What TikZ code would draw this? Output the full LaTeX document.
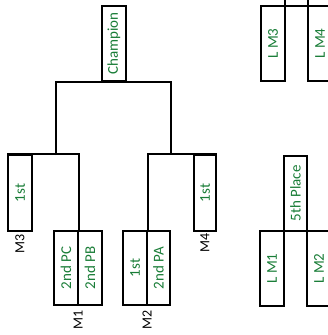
\documentclass[tikz,border=0pt]{standalone}
\usepackage{fontspec}
\setmainfont{Carlito}
\definecolor{tg}{RGB}{25,125,55}
\begin{document}
\begin{tikzpicture}[x=1pt,y=-1pt,line width=1.7pt,
  cell/.style={draw=black,inner sep=0pt,minimum width=24pt,minimum height=75pt,
    text=tg,font=\fontsize{15}{17}\selectfont},
  lab/.style={inner sep=0pt,text=black,font=\fontsize{14}{16}\selectfont}]
\useasboundingbox (0,0) rectangle (328,335);
\fill[white] (0,0) rectangle (328,335);
\clip (0,0) rectangle (328,335);
% left bracket boxes
\node[cell] (champ) at (114,43.5) {\rotatebox{90}{Champion}};
\node[cell,minimum height=76pt] (m3) at (20,193) {\rotatebox{90}{1st}};
\node[cell,minimum height=74pt] (m1l) at (66,268) {\rotatebox{90}{2nd PC}};
\node[cell,minimum height=74pt] (m1r) at (90,268) {\rotatebox{90}{2nd PB}};
\node[cell,minimum height=74pt] (m2l) at (135,268) {\rotatebox{90}{1st}};
\node[cell,minimum height=74pt,minimum width=23pt] (m2r) at (158.5,268) {\rotatebox{90}{2nd PA}};
\node[cell,minimum height=76pt,minimum width=22pt] (m4) at (205,193) {\rotatebox{90}{1st}};
% right side boxes
\node[cell] (lm3) at (273,43.5) {\rotatebox{90}{L M3}};
\node[cell,minimum height=26pt,minimum width=23pt] (tmid) at (296.5,-7) {};
\node[cell] (lm4) at (320,43.5) {\rotatebox{90}{L M4}};
\node[cell,minimum width=23pt] (fifth) at (295.5,193.5) {\rotatebox{90}{5th Place}};
\node[cell] (lm1) at (272,268.5) {\rotatebox{90}{L M1}};
\node[cell] (lm2) at (319,268.5) {\rotatebox{90}{L M2}};
% labels
\node[lab] (lbm3) at (20,244) {\rotatebox{90}{M3}};
\node[lab] (lbm1) at (78,320) {\rotatebox{90}{M1}};
\node[lab] (lbm2) at (147,320) {\rotatebox{90}{M2}};
\node[lab] (lbm4) at (205,243) {\rotatebox{90}{M4}};
% connectors
\coordinate (sl) at (56,155);
\coordinate (sr) at (171,155);
\draw (m3.north west) -- (m1l.north east |- m3.north) -- (m1l.north east);
\draw (m2l.north east) -- (m2l.north east |- m4.north) -- (m4.north east);
\draw (sl) -- (sl |- champ.south) -- (sr |- champ.south) -- (sr);
\end{tikzpicture}
\end{document}
